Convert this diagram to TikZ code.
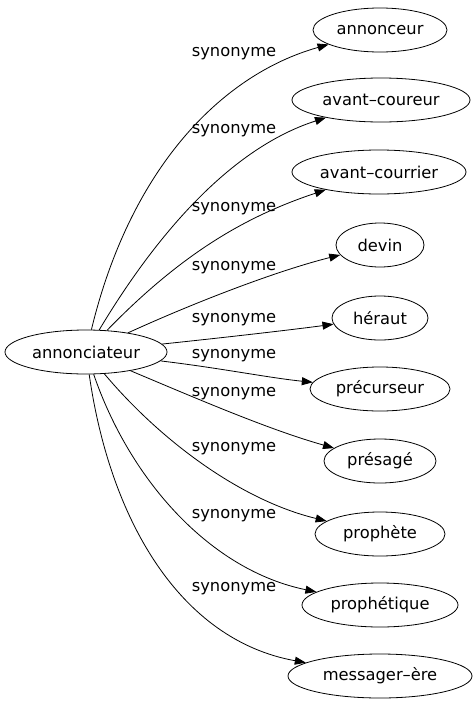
\documentclass[tikz,border=0pt]{standalone}
\usepackage{fontspec}
\setmainfont{DejaVu Sans}
\usetikzlibrary{shapes.geometric,arrows.meta}
\begin{document}
\begin{tikzpicture}[x=1pt,y=-1pt,
  word/.style={draw,ellipse,line width=0.8pt,inner sep=0pt,minimum height=44pt,font=\fontsize{16.3}{18}\selectfont},
  lbl/.style={inner sep=0pt,font=\fontsize{16.3}{18}\selectfont},
  edge/.style={line width=0.8pt,-{Triangle[length=11pt,width=8pt]}}]
\useasboundingbox (0,0) rectangle (473,707);
\node[word,minimum width=162pt] (src) at (86,352) {annonciateur};
\node[word,minimum width=134pt] (t1) at (380,30) {annonceur};
\node[word,minimum width=178pt] (t2) at (381,100) {avant–coureur};
\node[word,minimum width=174pt] (t3) at (379,172) {avant–courrier};
\node[word,minimum width=88pt] (t4) at (380,245) {devin};
\node[word,minimum width=96pt] (t5) at (380,318) {héraut};
\node[word,minimum width=140pt] (t6) at (380,389) {précurseur};
\node[word,minimum width=112pt] (t7) at (380,461) {présagé};
\node[word,minimum width=130pt] (t8) at (380,534) {prophète};
\node[word,minimum width=156pt] (t9) at (380,605) {prophétique};
\node[word,minimum width=184pt] (t10) at (380,676) {messager–ère};
\node[lbl] (l1) at (234,54) {synonyme};
\node[lbl] (l2) at (234,131) {synonyme};
\node[lbl] (l3) at (234,209) {synonyme};
\node[lbl] (l4) at (234,268) {synonyme};
\node[lbl] (l5) at (234,320) {synonyme};
\node[lbl] (l6) at (234,356) {synonyme};
\node[lbl] (l7) at (234,394) {synonyme};
\node[lbl] (l8) at (234,449) {synonyme};
\node[lbl] (l9) at (234,516) {synonyme};
\node[lbl] (l10) at (234,589) {synonyme};
\draw[edge] (src) .. controls (130,170) and (220,75) .. (t1);
\draw[edge] (src) .. controls (150,245) and (225,150) .. (t2);
\draw[edge] (src) .. controls (185,250) and (250,215) .. (t3);
\draw[edge] (src) .. controls (200,300) and (280,270) .. (t4);
\draw[edge] (src) .. controls (220,338) and (290,330) .. (t5);
\draw[edge] (src) .. controls (220,368) and (270,378) .. (t6);
\draw[edge] (src) .. controls (200,400) and (270,430) .. (t7);
\draw[edge] (src) .. controls (160,440) and (240,500) .. (t8);
\draw[edge] (src) .. controls (130,480) and (210,570) .. (t9);
\draw[edge] (src) .. controls (110,520) and (180,640) .. (t10);
\end{tikzpicture}
\end{document}
